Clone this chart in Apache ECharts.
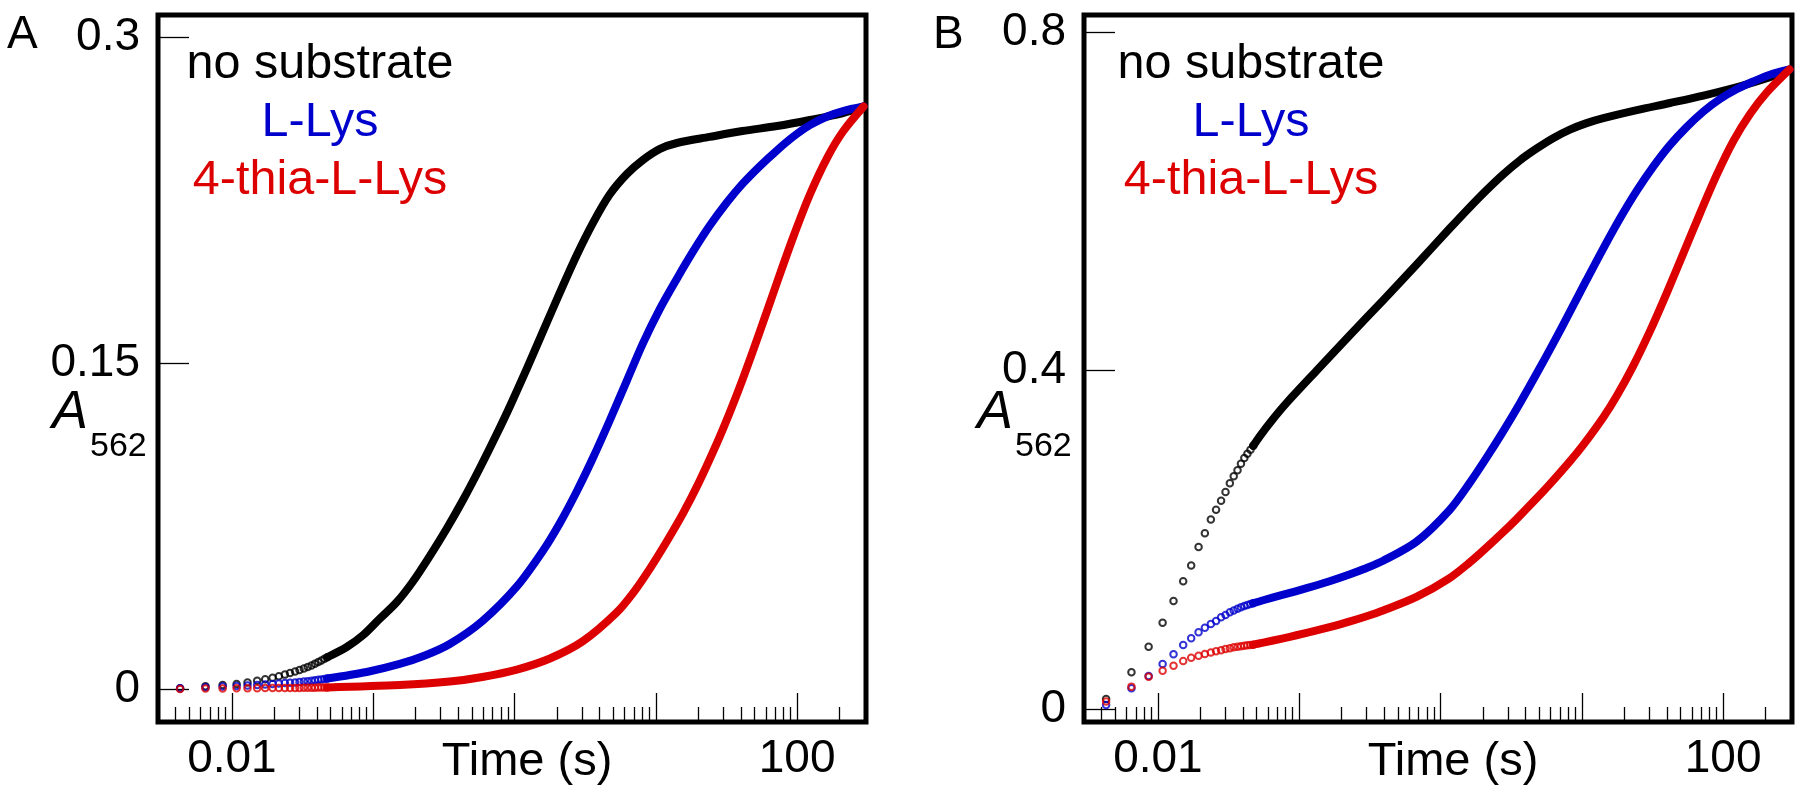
<!DOCTYPE html>
<html><head><meta charset="utf-8">
<script src="https://cdn.jsdelivr.net/npm/echarts@6/dist/echarts.min.js"></script>
<style>html,body{margin:0;padding:0;background:#fff}#c{width:1800px;height:796px}</style>
</head><body><div id="c"></div>
<script>
// ---------- data ----------
const earlyTime = [0.0043, 0.0065, 0.0086, 0.0108, 0.0129, 0.0151, 0.0172, 0.0194, 0.0215, 0.0237, 0.0258,
  0.0280, 0.0301, 0.0323, 0.0344, 0.0366, 0.0387, 0.0409, 0.0430, 0.0452, 0.0473];

// Panel A: early sparse points (A562)
const aEarlyNone = [0.0003, 0.0013, 0.0018, 0.0023, 0.0030, 0.0038, 0.0045, 0.0052, 0.0059, 0.0066, 0.0073,
  0.0080, 0.0087, 0.0094, 0.0101, 0.0108, 0.0116, 0.0124, 0.0131, 0.0139, 0.0146];
const aEarlyLys = [0.0003, 0.0008, 0.0011, 0.0014, 0.0016, 0.0018, 0.0021, 0.0023, 0.0025, 0.0027, 0.0029,
  0.0030, 0.0032, 0.0034, 0.0036, 0.0038, 0.0040, 0.0042, 0.0044, 0.0046, 0.0048];
const aEarlyThia = [0.0000, 0.0002, 0.0002, 0.0003, 0.0003, 0.0003, 0.0004, 0.0004, 0.0004, 0.0005, 0.0005,
  0.0005, 0.0005, 0.0006, 0.0006, 0.0006, 0.0006, 0.0007, 0.0007, 0.0007, 0.0007];
// Panel A: dense traces [time (s), A562]
const aTraceNone = [[0.0473,0.0146],[0.065,0.0193],[0.085,0.0248],[0.11,0.0320],[0.147,0.0400],[0.19,0.0492],
  [0.25,0.0609],[0.33,0.0736],[0.43,0.0867],[0.57,0.1018],[0.75,0.1174],[0.93,0.1302],[1.22,0.1473],
  [1.59,0.1645],[2.1,0.1826],[2.76,0.1997],[3.6,0.2146],[4.7,0.2274],[6.25,0.2370],[8.1,0.2434],
  [10.7,0.2485],[14.1,0.2512],[24,0.2540],[41,0.2567],[72,0.2590],[123,0.2618],[211,0.2650],[295,0.2680]];
const aTraceLys = [[0.0473,0.0048],[0.09,0.0078],[0.154,0.0115],[0.232,0.0154],[0.348,0.0207],[0.593,0.0313],
  [1.04,0.0472],[1.59,0.0636],[2.1,0.0765],[2.76,0.0910],[3.6,0.1065],[4.7,0.1233],[6.25,0.1420],
  [8.1,0.1590],[10.7,0.1750],[14.1,0.1888],[18.3,0.2012],[24.1,0.2132],[31.8,0.2238],[41.3,0.2326],
  [54.3,0.2405],[71.9,0.2478],[93.4,0.2540],[123,0.2594],[163,0.2634],[211,0.2659],[295,0.2680]];
const aTraceThia = [[0.0473,0.0007],[0.154,0.0018],[0.348,0.0034],[0.593,0.0055],[1.04,0.0089],[1.78,0.0140],
  [3.05,0.0220],[5.27,0.0351],[7.0,0.0447],[9.08,0.0554],[12.0,0.0681],[15.6,0.0809],[20.0,0.0945],
  [27.1,0.1132],[33.4,0.1273],[41.3,0.1428],[54.5,0.1645],[71.9,0.1869],[93.4,0.2076],[123,0.2275],
  [163,0.2444],[211,0.2565],[295,0.2680]];

// Panel B: early sparse points
const bEarlyNone = [0.0118, 0.0433, 0.0735, 0.1020, 0.1275, 0.1510, 0.1695, 0.1915, 0.2076, 0.2238, 0.2355,
  0.2460, 0.2565, 0.2668, 0.2750, 0.2822, 0.2898, 0.2965, 0.3015, 0.3062, 0.3110];
const bEarlyLys = [0.0047, 0.0244, 0.0390, 0.0532, 0.0646, 0.0756, 0.0835, 0.0906, 0.0961, 0.1004, 0.1040,
  0.1083, 0.1110, 0.1142, 0.1165, 0.1185, 0.1203, 0.1218, 0.1230, 0.1240, 0.1250];
const bEarlyThia = [0.0087, 0.0264, 0.0382, 0.0453, 0.0512, 0.0567, 0.0605, 0.0630, 0.0650, 0.0668, 0.0682,
  0.0695, 0.0708, 0.0718, 0.0728, 0.0735, 0.0742, 0.0748, 0.0753, 0.0757, 0.0760];
// Panel B: dense traces
const bTraceNone = [[0.0473,0.3110],[0.0527,0.3225],[0.0655,0.3430],[0.0812,0.3615],[0.133,0.4000],
  [0.229,0.4420],[0.393,0.4830],[0.675,0.5250],[1.16,0.5677],[1.61,0.5930],[2.1,0.6126],[2.76,0.6314],
  [3.63,0.6481],[4.77,0.6621],[6.26,0.6745],[8.23,0.6846],[10.8,0.6923],[14.2,0.6982],[24.5,0.7077],
  [42,0.7161],[72.5,0.7249],[124,0.7347],[214,0.7466],[295,0.7557]];
const bTraceLys = [[0.0473,0.1250],[0.0556,0.1285],[0.0771,0.1350],[0.0956,0.1393],[0.133,0.1462],
  [0.164,0.1509],[0.229,0.1592],[0.284,0.1651],[0.393,0.1752],[0.675,0.1976],[1.16,0.2352],[1.61,0.2672],
  [2.1,0.2961],[2.76,0.3275],[3.63,0.3608],[4.77,0.3958],[6.26,0.4318],[8.23,0.4692],[10.8,0.5070],
  [14.2,0.5444],[18.6,0.5796],[24.5,0.6125],[32.1,0.6412],[42,0.6663],[55.1,0.6876],[72.5,0.7061],
  [95,0.7208],[124.4,0.7323],[163,0.7415],[214,0.7495],[295,0.7557]];
const bTraceThia = [[0.0473,0.0760],[0.0556,0.0784],[0.0771,0.0835],[0.0956,0.0871],[0.133,0.0928],
  [0.164,0.0967],[0.229,0.1035],[0.30,0.1096],[0.393,0.1164],[0.675,0.1324],[1.16,0.1547],[1.61,0.1732],
  [1.99,0.1866],[2.76,0.2086],[3.45,0.2244],[4.77,0.2486],[5.94,0.2657],[8.23,0.2926],[10.2,0.3117],
  [14.2,0.3448],[17.6,0.3695],[23.1,0.4055],[30.3,0.4462],[39.8,0.4912],[52.3,0.5386],[68.6,0.5857],
  [90,0.6311],[118,0.6711],[155,0.7031],[203,0.7283],[295,0.7557]];

// axes / labels
const seriesNames = ['no substrate', 'L-Lys', '4-thia-L-Lys'];
const xMajorTicks = [0.01, 0.1, 1, 10, 100];
const xMinorTicks = [0.004,0.005,0.006,0.007,0.008,0.009,0.02,0.03,0.04,0.05,0.06,0.07,0.08,0.09,
  0.2,0.3,0.4,0.5,0.6,0.7,0.8,0.9,2,3,4,5,6,7,8,9,20,30,40,50,60,70,80,90,200];
const xLabelValues = [0.01, 100];
const xLabelTexts = ['0.01', '100'];
const yTicksA = [0, 0.15, 0.3];
const yLabelsA = ['0', '0.15', '0.3'];
const yTicksB = [0, 0.4, 0.8];
const yLabelsB = ['0', '0.4', '0.8'];
const panelLetters = ['A', 'B'];

// ---------- chart ----------
const FONT = "'Liberation Sans', Arial, sans-serif";
const COLORS = ['#000000', '#0000CC', '#DD0000'];
const X_MIN = 0.003, X_MAX = 307;
const grids = [{left: 158}, {left: 1084}];

function pick(values, texts) {
  return function (v) {
    for (let i = 0; i < values.length; i++) {
      if (Math.abs(v - values[i]) <= Math.abs(values[i]) * 1e-6 + 1e-9) return texts[i];
    }
    return '';
  };
}

const xAxes = [], yAxes = [], series = [], titles = [];
const yConf = [
  {min: -0.0152, max: 0.3101, ticks: yTicksA, labels: yLabelsA},
  {min: -0.0154, max: 0.8201, ticks: yTicksB, labels: yLabelsB}
];
const early = [[aEarlyNone, aEarlyLys, aEarlyThia], [bEarlyNone, bEarlyLys, bEarlyThia]];
const traces = [[aTraceNone, aTraceLys, aTraceThia], [bTraceNone, bTraceLys, bTraceThia]];

grids.forEach(function (g, gi) {
  xAxes.push({
    type: 'log', logBase: 10, gridIndex: gi, min: X_MIN, max: X_MAX, position: 'bottom',
    axisLine: {show: false, onZero: false}, splitLine: {show: false},
    axisTick: {show: true, inside: true, length: 29, lineStyle: {color: '#000', width: 1.3}, customValues: xMajorTicks},
    axisLabel: {show: true, customValues: xLabelValues, formatter: pick(xLabelValues, xLabelTexts),
      margin: 14, fontSize: 46, fontFamily: FONT, color: '#000'},
    name: 'Time (s)', nameLocation: 'middle', nameGap: 17, nameMoveOverlap: false,
    nameTextStyle: {fontSize: 47, fontFamily: FONT, color: '#000', padding: [0, 0, 0, 30]}
  });
  xAxes.push({
    type: 'log', logBase: 10, gridIndex: gi, min: X_MIN, max: X_MAX, position: 'bottom',
    axisLine: {show: false, onZero: false}, splitLine: {show: false}, axisLabel: {show: false},
    axisTick: {show: true, inside: true, length: 15, lineStyle: {color: '#000', width: 1.3}, customValues: xMinorTicks}
  });
  const yc = yConf[gi];
  yAxes.push({
    type: 'value', gridIndex: gi, min: yc.min, max: yc.max,
    axisLine: {show: false, onZero: false}, splitLine: {show: false},
    axisTick: {show: true, inside: true, length: 31, lineStyle: {color: '#000', width: 1.3}, customValues: yc.ticks},
    axisLabel: {show: true, customValues: yc.ticks, formatter: pick(yc.ticks, yc.labels),
      margin: 18, fontSize: 46, fontFamily: FONT, color: '#000', padding: [0, 0, 14, 0]}
  });
  for (let s = 0; s < 3; s++) {
    series.push({
      type: 'scatter', name: seriesNames[s], xAxisIndex: gi * 2, yAxisIndex: gi,
      data: earlyTime.map(function (t, i) { return [t, early[gi][s][i]]; }),
      symbol: 'circle', symbolSize: 6.5,
      itemStyle: {color: 'rgba(0,0,0,0)', borderColor: COLORS[s], borderWidth: 2},
      z: 2 + s, silent: true
    });
    series.push({
      type: 'line', name: seriesNames[s], xAxisIndex: gi * 2, yAxisIndex: gi,
      data: traces[gi][s], showSymbol: false, symbol: 'none', smooth: 0.3,
      lineStyle: {color: COLORS[s], width: 8, cap: 'round', join: 'round'},
      z: 2 + s, silent: true
    });
  }
});

const legendCenters = [320, 1251];
const letterLeft = [7, 933];
const axisTitleLeft = [[52, 90], [977, 1015]];
grids.forEach(function (g, gi) {
  titles.push({
    text: panelLetters[gi], left: letterLeft[gi], top: 12, padding: 0,
    textStyle: {fontSize: 46, fontWeight: 'normal', fontFamily: FONT, color: '#000', lineHeight: 46}
  });
  titles.push({
    text: '{k|' + seriesNames[0] + '}\n{b|' + seriesNames[1] + '}\n{r|' + seriesNames[2] + '}',
    left: legendCenters[gi], top: 36, textAlign: 'center', padding: 0,
    textStyle: {fontWeight: 'normal', rich: {
      k: {color: COLORS[0], fontSize: 48.5, lineHeight: 58, fontFamily: FONT, fontWeight: 'normal'},
      b: {color: COLORS[1], fontSize: 48.5, lineHeight: 58, fontFamily: FONT, fontWeight: 'normal'},
      r: {color: COLORS[2], fontSize: 48.5, lineHeight: 58, fontFamily: FONT, fontWeight: 'normal'}
    }}
  });
  titles.push({
    text: 'A', left: axisTitleLeft[gi][0], top: 386, padding: 0,
    textStyle: {fontSize: 54, fontStyle: 'italic', fontWeight: 'normal', fontFamily: FONT, color: '#000', lineHeight: 54}
  });
  titles.push({
    text: '562', left: axisTitleLeft[gi][1], top: 430, padding: 0,
    textStyle: {fontSize: 34, fontWeight: 'normal', fontFamily: FONT, color: '#000', lineHeight: 34}
  });
});

const chart = echarts.init(document.getElementById('c'), null, {renderer: 'canvas'});
chart.setOption({
  animation: false,
  backgroundColor: '#fff',
  title: titles,
  grid: grids.map(function (g) {
    return {left: g.left, top: 15, width: 708, height: 707, show: true, borderColor: '#000', borderWidth: 5,
      backgroundColor: 'rgba(0,0,0,0)', containLabel: false, outerBoundsMode: 'none'};
  }),
  xAxis: xAxes,
  yAxis: yAxes,
  series: series
});
</script></body></html>
